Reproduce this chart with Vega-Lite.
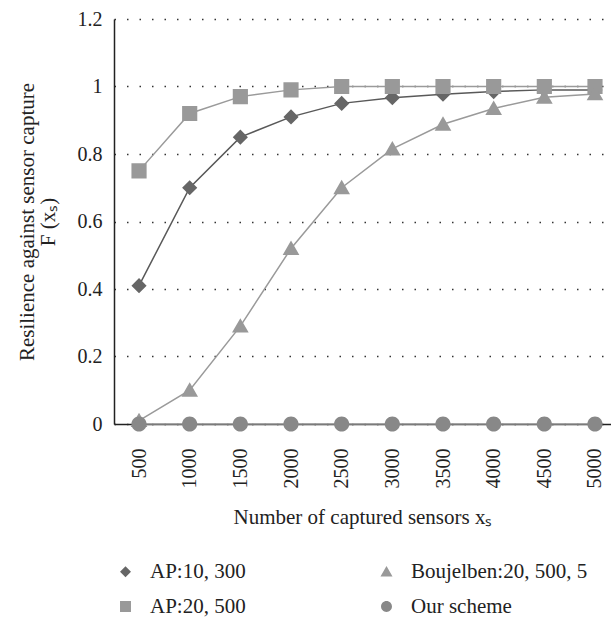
{
  "$schema": "https://vega.github.io/schema/vega-lite/v6.json",
  "width": 497,
  "height": 405,
  "autosize": "none",
  "padding": {"left": 114, "top": 19, "right": 0, "bottom": 199},
  "background": "white",
  "config": {
    "font": "Liberation Serif",
    "view": {"stroke": null},
    "axis": {"labelFont": "Liberation Serif", "titleFont": "Liberation Serif", "labelColor": "#222", "titleColor": "#222", "titleFontWeight": "normal"},
    "legend": {"labelFont": "Liberation Serif"}
  },
  "data": {
    "values": [
      {"x": 500, "series": "AP:10, 300", "y": 0.41},
      {"x": 1000, "series": "AP:10, 300", "y": 0.70},
      {"x": 1500, "series": "AP:10, 300", "y": 0.85},
      {"x": 2000, "series": "AP:10, 300", "y": 0.91},
      {"x": 2500, "series": "AP:10, 300", "y": 0.95},
      {"x": 3000, "series": "AP:10, 300", "y": 0.967},
      {"x": 3500, "series": "AP:10, 300", "y": 0.977},
      {"x": 4000, "series": "AP:10, 300", "y": 0.985},
      {"x": 4500, "series": "AP:10, 300", "y": 0.99},
      {"x": 5000, "series": "AP:10, 300", "y": 0.99},
      {"x": 500, "series": "AP:20, 500", "y": 0.75},
      {"x": 1000, "series": "AP:20, 500", "y": 0.92},
      {"x": 1500, "series": "AP:20, 500", "y": 0.97},
      {"x": 2000, "series": "AP:20, 500", "y": 0.99},
      {"x": 2500, "series": "AP:20, 500", "y": 1.0},
      {"x": 3000, "series": "AP:20, 500", "y": 1.0},
      {"x": 3500, "series": "AP:20, 500", "y": 1.0},
      {"x": 4000, "series": "AP:20, 500", "y": 1.0},
      {"x": 4500, "series": "AP:20, 500", "y": 1.0},
      {"x": 5000, "series": "AP:20, 500", "y": 1.0},
      {"x": 500, "series": "Boujelben:20, 500, 5", "y": 0.01},
      {"x": 1000, "series": "Boujelben:20, 500, 5", "y": 0.10},
      {"x": 1500, "series": "Boujelben:20, 500, 5", "y": 0.29},
      {"x": 2000, "series": "Boujelben:20, 500, 5", "y": 0.52},
      {"x": 2500, "series": "Boujelben:20, 500, 5", "y": 0.70},
      {"x": 3000, "series": "Boujelben:20, 500, 5", "y": 0.815},
      {"x": 3500, "series": "Boujelben:20, 500, 5", "y": 0.888},
      {"x": 4000, "series": "Boujelben:20, 500, 5", "y": 0.935},
      {"x": 4500, "series": "Boujelben:20, 500, 5", "y": 0.968},
      {"x": 5000, "series": "Boujelben:20, 500, 5", "y": 0.978},
      {"x": 500, "series": "Our scheme", "y": 0},
      {"x": 1000, "series": "Our scheme", "y": 0},
      {"x": 1500, "series": "Our scheme", "y": 0},
      {"x": 2000, "series": "Our scheme", "y": 0},
      {"x": 2500, "series": "Our scheme", "y": 0},
      {"x": 3000, "series": "Our scheme", "y": 0},
      {"x": 3500, "series": "Our scheme", "y": 0},
      {"x": 4000, "series": "Our scheme", "y": 0},
      {"x": 4500, "series": "Our scheme", "y": 0},
      {"x": 5000, "series": "Our scheme", "y": 0}
    ]
  },
  "encoding": {
    "x": {
      "field": "x", "type": "quantitative",
      "scale": {"domain": [253, 5158], "nice": false, "zero": false},
      "axis": {
        "values": [500, 1000, 1500, 2000, 2500, 3000, 3500, 4000, 4500, 5000],
        "labelAngle": -90, "labelAlign": "right", "labelBaseline": "middle",
        "labelFontSize": 20, "labelPadding": 24, "ticks": false, "grid": false,
        "format": "d",
        "domainColor": "#222", "domainWidth": 1.5,
        "title": "Number of captured sensors xₛ", "titleFontSize": 21, "titlePadding": 18
      }
    },
    "y": {
      "field": "y", "type": "quantitative",
      "scale": {"domain": [0, 1.2], "nice": false},
      "axis": {
        "values": [0, 0.2, 0.4, 0.6, 0.8, 1.0, 1.2],
        "labelExpr": "datum.value == 1 ? '1' : datum.value == 0 ? '0' : format(datum.value, '.1f')",
        "labelFontSize": 20, "labelPadding": 12, "ticks": false,
        "grid": true, "gridColor": "#333", "gridDash": [1.5, 11], "gridWidth": 1.5,
        "domainColor": "#222", "domainWidth": 1.5,
        "title": ["Resilience against sensor capture", "F (xₛ)"], "titleFontSize": 21, "titleLineHeight": 21, "titlePadding": 19
      }
    }
  },
  "layer": [
    {
      "mark": {"type": "line", "strokeWidth": 1.5},
      "encoding": {
        "stroke": {"condition": {"test": "datum.series === 'AP:10, 300'", "value": "#595959"}, "value": "#9a9a9a"},
        "detail": {"field": "series"}
      }
    },
    {
      "mark": {"type": "point", "filled": true, "opacity": 1, "size": 230},
      "encoding": {
        "shape": {
          "field": "series", "type": "nominal",
          "scale": {
            "domain": ["AP:10, 300", "Boujelben:20, 500, 5", "AP:20, 500", "Our scheme"],
            "range": [
              "M-2.3,0H2.3M0,-1L1,0L0,1L-1,0Z",
              "M-2.3,0.3H2.3M0,-1.05L1.1,0.85H-1.1Z",
              "M-2.3,0H2.3M-1,-1H1V1H-1Z",
              "M-2.3,0H2.3M-1,0A1,1 0 1,0 1,0A1,1 0 1,0 -1,0Z"
            ]
          },
          "legend": {
            "title": null, "orient": "none", "legendX": 1, "legendY": 542, "padding": 0,
            "direction": "horizontal", "columns": 2, "columnPadding": 124, "rowPadding": 13,
            "labelFont": "Liberation Serif", "labelFontSize": 21, "labelColor": "#222", "labelLimit": 400,
            "symbolSize": 120, "labelOffset": 14,
            "symbolStrokeColor": "#8c8c8c", "symbolStrokeWidth": 1.5
          }
        },
        "fill": {
          "field": "series", "type": "nominal",
          "scale": {"domain": ["AP:10, 300", "Boujelben:20, 500, 5", "AP:20, 500", "Our scheme"], "range": ["#666666", "#999999", "#999999", "#888888"]},
          "legend": {
            "title": null, "orient": "none", "legendX": 1, "legendY": 542, "padding": 0,
            "direction": "horizontal", "columns": 2, "columnPadding": 124, "rowPadding": 13,
            "labelFont": "Liberation Serif", "labelFontSize": 21, "labelColor": "#222", "labelLimit": 400,
            "symbolSize": 120, "labelOffset": 14,
            "symbolStrokeColor": "#8c8c8c", "symbolStrokeWidth": 1.5
          }
        }
      }
    }
  ]
}
